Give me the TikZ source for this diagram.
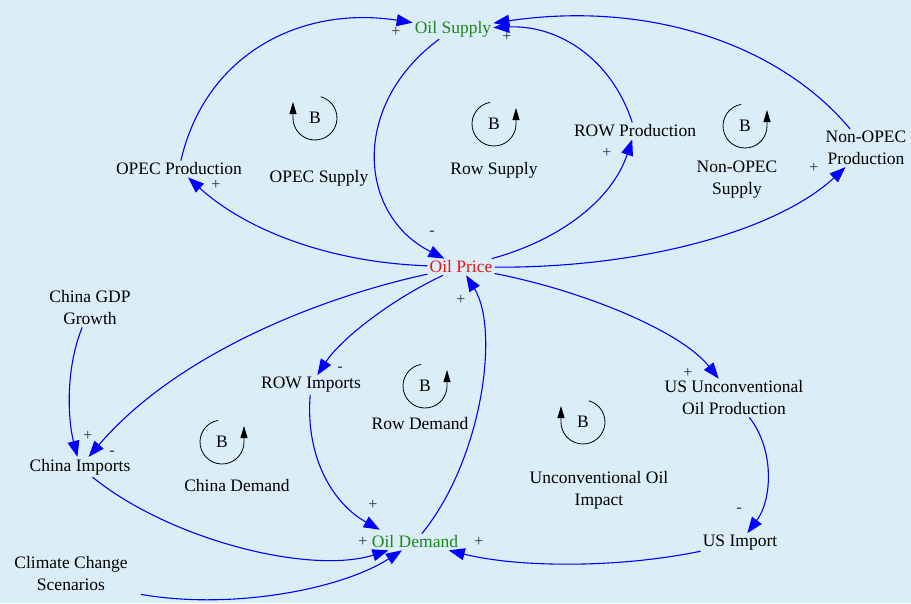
\documentclass[tikz,border=0pt]{standalone}
\usepackage{fontspec}
\setmainfont{Liberation Serif}
\usetikzlibrary{arrows.meta}
\definecolor{bg}{RGB}{219,238,248}
\definecolor{edgeblue}{RGB}{0,0,255}
\definecolor{vgreen}{RGB}{25,135,25}
\definecolor{vred}{RGB}{235,20,20}
\definecolor{signgray}{RGB}{45,45,45}
\begin{document}
\begin{tikzpicture}[x=1pt,y=-1pt,
  var/.style={font=\fontsize{17.5}{22}\selectfont, align=center, inner sep=2pt},
  link/.style={draw=edgeblue, line width=1.1pt, -{Triangle[length=16pt,width=12pt]}},
  sign/.style={font=\fontsize{16}{18}\selectfont, text=signgray, inner sep=0pt},
  loopB/.style={font=\fontsize{17.5}{20}\selectfont, inner sep=0pt},
  looparc/.style={draw=black, line width=0.8pt, -{Triangle[length=12pt,width=7pt]}}]
\useasboundingbox[fill=bg] (0,0) rectangle (911,603);

% variables
\node[var, text=vgreen] (supply) at (453,29) {Oil Supply};
\node[var, text=vred] (price) at (461,267) {Oil Price};
\node[var] (opec) at (179,169) {OPEC Production};
\node[var] (rowp) at (635,131) {ROW Production};
\node[var] (nonopec) at (866,148) {Non-OPEC\\Production};
\node[var] (gdp) at (90,308) {China GDP\\Growth};
\node[var] (china) at (80,467) {China Imports};
\node[var] (rowimp) at (311,385) {ROW Imports};
\node[var] (usunc) at (734,398) {US Unconventional\\Oil Production};
\node[var] (usimp) at (740,543) {US Import};
\node[var, text=vgreen] (demand) at (415,542) {Oil Demand};
\node[var] (climate) at (71,574) {Climate Change\\Scenarios};

% loop labels
\node[var] (lopec) at (319,178) {OPEC Supply};
\node[var] (lrow) at (494,170) {Row Supply};
\node[var] (lnon) at (737,180) {Non-OPEC\\Supply};
\node[var] (lchina) at (237,486) {China Demand};
\node[var] (lrowd) at (420,424) {Row Demand};
\node[var] (lunc) at (599,490) {Unconventional Oil\\Impact};

% loop symbols: arrow on left
\foreach \n/\cx/\cy in {bopec/315/118, bunc/583/422}{
  \node[loopB] (\n) at (\cx,\cy) {B};
  \draw[looparc] (\n) ++(-75:22) arc[start angle=-75, end angle=180, radius=22] -- ++(0,-16);
}
% loop symbols: arrow on right
\foreach \n/\cx/\cy in {brow/494/124, bnon/745/126, bchina/222/442, browd/425/386}{
  \node[loopB] (\n) at (\cx,\cy) {B};
  \draw[looparc] (\n) ++(-100:22) arc[start angle=-100, end angle=-360, radius=22] -- ++(0,-16);
}

% links
\draw[link] (opec) .. controls (205,55) and (300,5) .. (supply);
\draw[link] (supply) .. controls (350,105) and (358,215) .. (price);
\draw[link] (rowp) .. controls (612,60) and (560,25) .. (supply);
\draw[link] (nonopec) .. controls (780,45) and (650,0) .. (supply);
\draw[link] (price) .. controls (320,262) and (240,225) .. (opec);
\draw[link] (price) .. controls (560,240) and (612,200) .. (rowp);
\draw[link] (price) .. controls (650,268) and (780,228) .. (nonopec);
\draw[link] (price) .. controls (330,295) and (180,350) .. (china);
\draw[link] (gdp) .. controls (65,370) and (68,420) .. (china);
\draw[link] (price) .. controls (390,300) and (340,340) .. (rowimp);
\draw[link] (price) .. controls (580,290) and (680,330) .. (usunc);
\draw[link] (demand) .. controls (482,460) and (500,330) .. (price);
\draw[link] (rowimp) .. controls (305,460) and (335,505) .. ([shift={(10,-4)}]demand.north west);
\draw[link] (china) .. controls (170,540) and (310,575) .. (demand);
\draw[link] ([shift={(11,1)}]climate.south east) .. controls (230,610) and (340,590) .. (demand);
\draw[link] (usunc) .. controls (775,450) and (772,500) .. (usimp);
\draw[link] (usimp) .. controls (620,568) and (520,568) .. (demand);

% polarity signs
\node[sign] (s1) at (396,32) {+};
\node[sign] (s2) at (507,37) {+};
\node[sign] (s3) at (432,233) {-};
\node[sign] (s4) at (216,185) {+};
\node[sign] (s5) at (607,153) {+};
\node[sign] (s6) at (814,168) {+};
\node[sign] (s7) at (112,453) {-};
\node[sign] (s8) at (88,436) {+};
\node[sign] (s9) at (340,369) {-};
\node[sign] (s10) at (688,373) {+};
\node[sign] (s11) at (461,300) {+};
\node[sign] (s12) at (373,505) {+};
\node[sign] (s13) at (363,542) {+};
\node[sign] (s14) at (479,542) {+};
\node[sign] (s15) at (739,510) {-};
\end{tikzpicture}
\end{document}
